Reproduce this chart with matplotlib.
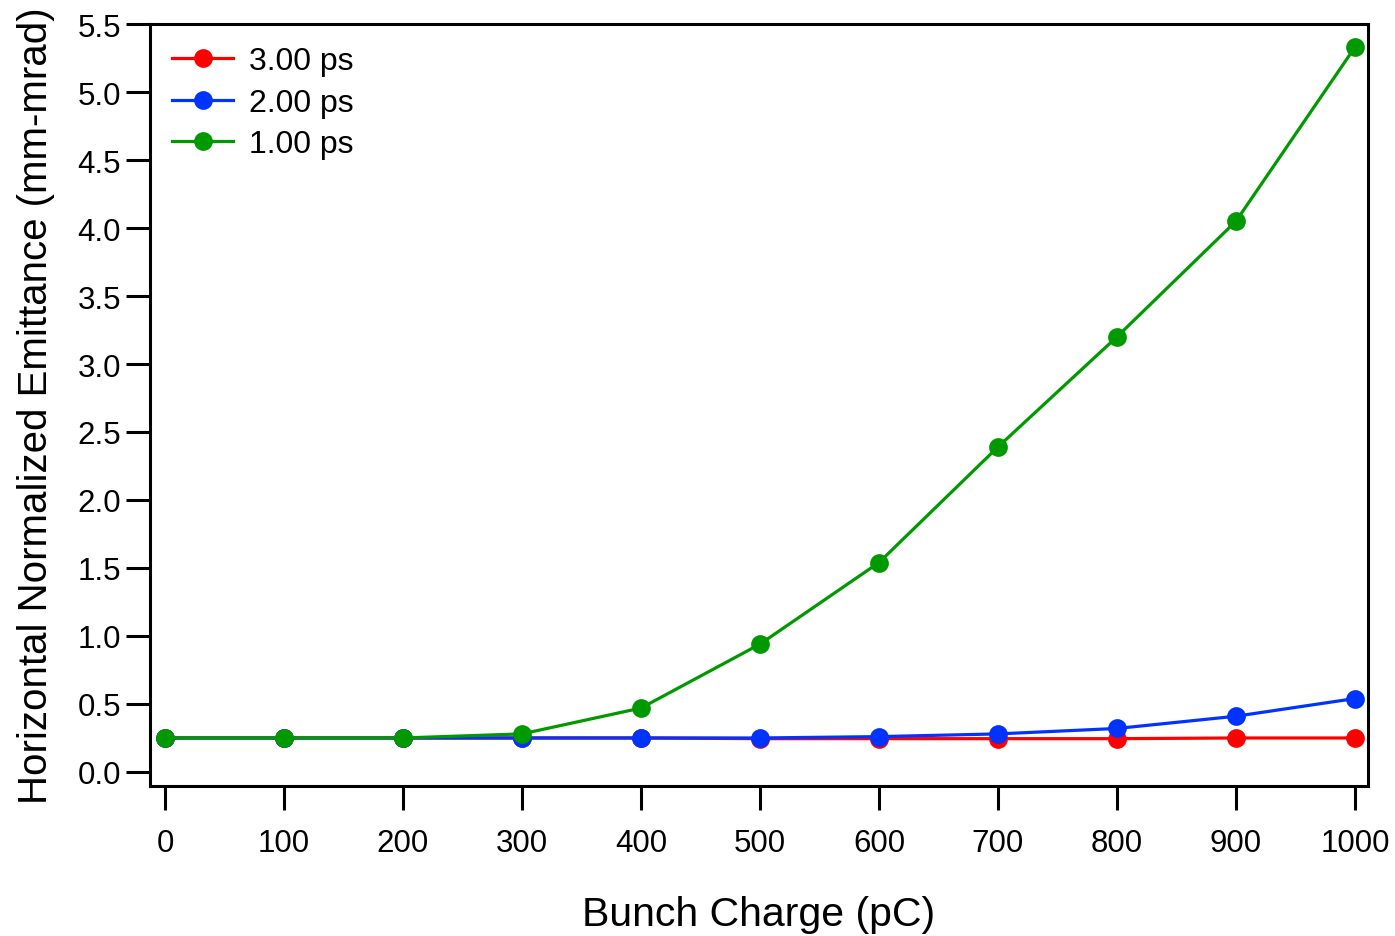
import matplotlib
matplotlib.use("Agg")
import matplotlib.pyplot as plt

# bunch charge (pC) and horizontal normalized emittance (mm-mrad) per pulse length
charge = [0, 100, 200, 300, 400, 500, 600, 700, 800, 900, 1000]
emit_3ps = [0.25, 0.25, 0.25, 0.25, 0.25, 0.245, 0.245, 0.245, 0.245, 0.25, 0.25]
emit_2ps = [0.25, 0.25, 0.25, 0.25, 0.25, 0.25, 0.26, 0.28, 0.32, 0.41, 0.54]
emit_1ps = [0.25, 0.25, 0.25, 0.28, 0.47, 0.94, 1.54, 2.39, 3.20, 4.05, 5.33]

series = [
    ("3.00 ps", emit_3ps, "#ff0000"),
    ("2.00 ps", emit_2ps, "#0033ff"),
    ("1.00 ps", emit_1ps, "#009900"),
]

xticks = [0, 100, 200, 300, 400, 500, 600, 700, 800, 900, 1000]
yticks = [0.0, 0.5, 1.0, 1.5, 2.0, 2.5, 3.0, 3.5, 4.0, 4.5, 5.0, 5.5]

plt.rcParams["font.family"] = ["Liberation Sans", "DejaVu Sans"]

fig = plt.figure(figsize=(13.95, 9.37), dpi=100)
ax = fig.add_axes([0.1075, 0.1601, 0.8731, 0.8132])

for label, vals, color in series:
    ax.plot(charge, vals, color=color, lw=2.3, marker="o", ms=13.5,
            markeredgewidth=0, label=label)

ax.set_xlim(-12.6, 1010.9)
ax.set_ylim(-0.103, 5.5)
ax.set_xticks(xticks)
ax.set_xticklabels([str(t) for t in xticks])
ax.set_yticks(yticks)
ax.set_yticklabels([f"{t:.1f}" for t in yticks])

for sp in ax.spines.values():
    sp.set_linewidth(2.2)
ax.tick_params(axis="both", direction="out", length=17, width=2.2,
               labelsize=22.5)
ax.tick_params(axis="x", pad=13)
ax.tick_params(axis="y", pad=4)

ax.set_xlabel("Bunch Charge (pC)", fontsize=29.5, labelpad=27)
ax.set_ylabel("Horizontal Normalized Emittance (mm-mrad)", fontsize=29,
              labelpad=16)

ax.legend(loc="upper left", frameon=False, fontsize=23, handlelength=1.9,
          handletextpad=0.5, labelspacing=0.36, borderaxespad=0.3,
          bbox_to_anchor=(0.0, 1.0))

fig.savefig("out.png", dpi=100)
